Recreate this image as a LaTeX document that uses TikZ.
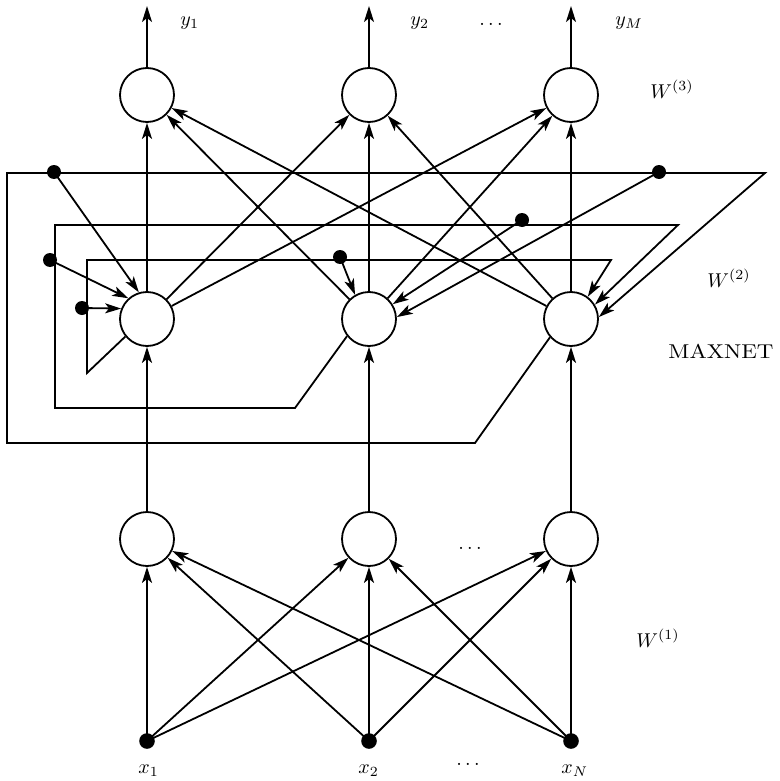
\documentclass[tikz,border=0pt]{standalone}
\usepackage{graphicx}
\usetikzlibrary{arrows.meta}
\begin{document}
\begin{tikzpicture}[x=0.5pt,y=-0.5pt,
  neuron/.style={circle,draw,line width=0.9pt,minimum size=27pt,inner sep=0pt},
  inputdot/.style={circle,fill,inner sep=0pt,minimum size=7.8pt},
  tapdot/.style={circle,fill,inner sep=0pt,minimum size=7pt},
  wire/.style={line width=0.9pt},
  arr/.style={wire,-{Stealth[length=8pt,width=5pt,inset=2pt]}},
  lbl/.style={inner sep=0pt,anchor=base west},
  dotslbl/.style={inner sep=0pt,anchor=base}]
\useasboundingbox (0,0) rectangle (780,781);

% neurons
\node[neuron] (T1) at (147,95) {};
\node[neuron] (T2) at (369,95) {};
\node[neuron] (T3) at (571,95) {};
\node[neuron] (H1) at (147,319) {};
\node[neuron] (H2) at (369,319) {};
\node[neuron] (H3) at (571,319) {};
\node[neuron] (B1) at (147,539) {};
\node[neuron] (B2) at (369,539) {};
\node[neuron] (B3) at (571,539) {};
\node[inputdot] (X1) at (147,741) {};
\node[inputdot] (X2) at (369,741) {};
\node[inputdot] (X3) at (571,741) {};

% outputs
\coordinate (o1) at (147,6);
\coordinate (o2) at (369,6);
\coordinate (o3) at (571,6);
\draw[arr] (T1) -- (o1);
\draw[arr] (T2) -- (o2);
\draw[arr] (T3) -- (o3);

% W(3)
\foreach \i in {1,2,3}{
  \foreach \j in {1,2,3}{
    \draw[arr] (H\i) -- (T\j);
  }
}
% bottom to MAXNET
\foreach \i in {1,2,3}{
  \draw[arr] (B\i) -- (H\i);
}
% W(1)
\foreach \i in {1,2,3}{
  \foreach \j in {1,2,3}{
    \draw[arr] (X\i.center) -- (B\j);
  }
}

% MAXNET feedback loops
\coordinate (a1) at (87,373);
\coordinate (a2) at (87,260);
\coordinate (a3) at (611,260);
\draw[arr] (H1.219) -- (a1) -- (a2) -- (a3) -- (H3.53);

\coordinate (b1) at (295,408);
\coordinate (b2) at (55,408);
\coordinate (b3) at (55,225);
\coordinate (b4) at (678,225);
\draw[arr] (H2.218) -- (b1) -- (b2) -- (b3) -- (b4) -- (H3.31);

\coordinate (c1) at (475,443);
\coordinate (c2) at (7,443);
\coordinate (c3) at (7,173);
\coordinate (c4) at (765,173);
\draw[arr] (H3.221) -- (c1) -- (c2) -- (c3) -- (c4) -- (H3.4);

% taps
\node[tapdot] (d1) at (82,308) {};
\node[tapdot] (d2) at (340,257) {};
\node[tapdot] (d3) at (50,260) {};
\node[tapdot] (d4) at (522,220) {};
\node[tapdot] (d5) at (54,172) {};
\node[tapdot] (d6) at (659,172) {};
\draw[arr] (d1.center) -- (H1.158);
\draw[arr] (d2.center) -- (H2.120);
\draw[arr] (d3.center) -- (H1.132);
\draw[arr] (d4.center) -- (H2.32);
\draw[arr] (d5.center) -- (H1.107);
\draw[arr] (d6.center) -- (H2.4);

% labels
\node[lbl] (ly1) at (180,26) {$y_1$};
\node[lbl] (ly2) at (410,26) {$y_2$};
\node[dotslbl] (ldt) at (491,26) {$\ldots$};
\node[lbl] (lyM) at (615,26) {$y_M$};
\node[dotslbl] (ldm) at (470,549) {$\ldots$};
\node[lbl] (lx1) at (138,773) {$x_1$};
\node[lbl] (lx2) at (358,773) {$x_2$};
\node[dotslbl] (ldb) at (468,765) {$\ldots$};
\node[lbl] (lxN) at (561,773) {$x_N$};
\node[lbl] (lw3) at (650,98) {$W^{(3)}$};
\node[lbl] (lw2) at (707,287) {$W^{(2)}$};
\node[lbl] (lw1) at (636,647) {$W^{(1)}$};
\node[lbl] (lmax) at (668,358) {\scalebox{1.15}[1]{MAXNET}};
\end{tikzpicture}
\end{document}
